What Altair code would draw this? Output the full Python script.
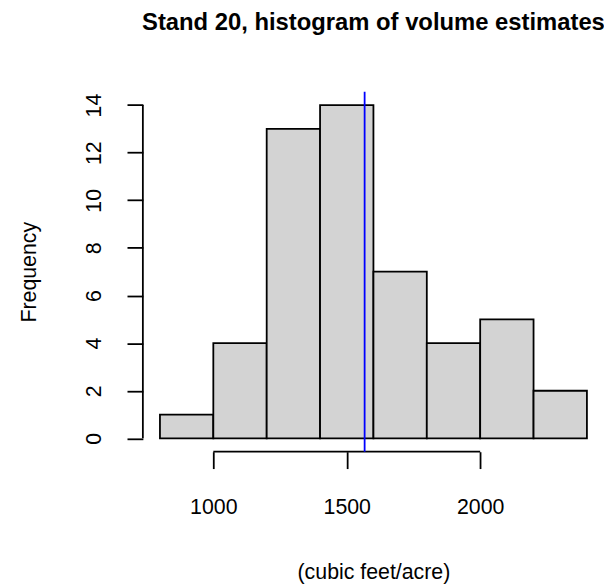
import altair as alt
import pandas as pd

# Histogram data
bin_starts = [800, 1000, 1200, 1400, 1600, 1800, 2000, 2200]
bin_ends = [1000, 1200, 1400, 1600, 1800, 2000, 2200, 2400]
counts = [1, 4, 13, 14, 7, 4, 5, 2]
x_ticks = [1000, 1500, 2000]
y_ticks = [0, 2, 4, 6, 8, 10, 12, 14]
mean_value = [1567]
x_domain = [736, 2464]
y_domain = [-0.56, 14.56]

FONT = "Liberation Sans"
FS = 21.5
LW = 1.8
X_TITLE = "(cubic feet/acre)"
Y_TITLE = "Frequency"

bars_df = pd.DataFrame({"start": bin_starts, "end": bin_ends, "count": counts})
xs = alt.Scale(domain=x_domain, nice=False, zero=False)
ys = alt.Scale(domain=y_domain, nice=False, zero=False)

xaxis = alt.Axis(values=x_ticks, format="d", domain=False, grid=False,
                 tickSize=17, tickWidth=LW, tickColor="black",
                 labelPadding=28, labelFontSize=FS, labelFont=FONT,
                 labelColor="black", titlePadding=44, titleFontSize=FS,
                 titleFont=FONT, titleFontWeight="normal", titleColor="black",
                 labelFlush=False)
yaxis = alt.Axis(values=y_ticks, format="d", domain=False, grid=False,
                 tickSize=16, tickWidth=LW, tickColor="black", labelAngle=270,
                 labelPadding=22, labelFontSize=FS, labelFont=FONT,
                 labelColor="black", titlePadding=43, titleFontSize=FS,
                 titleFont=FONT, titleFontWeight="normal",
                 titleColor="black", labelFlush=False)

bars = alt.Chart(bars_df).mark_rect(
    fill="#D3D3D3", stroke="black", strokeWidth=LW
).encode(
    x=alt.X("start:Q", scale=xs, title=X_TITLE, axis=xaxis),
    x2="end:Q",
    y=alt.Y("count:Q", scale=ys, title=Y_TITLE, axis=yaxis),
    y2=alt.datum(0),
)

xaxis_line = alt.Chart(pd.DataFrame({
    "a": [min(x_ticks)], "b": [max(x_ticks)], "y": [y_domain[0]]
})).mark_rule(color="black", strokeWidth=LW).encode(
    x=alt.X("a:Q", scale=xs, title=X_TITLE, axis=xaxis), x2="b:Q",
    y=alt.Y("y:Q", scale=ys, title=Y_TITLE, axis=yaxis),
)

yaxis_line = alt.Chart(pd.DataFrame({
    "x": [x_domain[0]], "a": [min(y_ticks)], "b": [max(y_ticks)]
})).mark_rule(color="black", strokeWidth=LW).encode(
    x=alt.X("x:Q", scale=xs, title=X_TITLE, axis=xaxis),
    y=alt.Y("a:Q", scale=ys, title=Y_TITLE, axis=yaxis), y2="b:Q",
)

mean_line = alt.Chart(pd.DataFrame({
    "m": mean_value, "lo": [y_domain[0]], "hi": [y_domain[1]]
})).mark_rule(color="#0000FF", strokeWidth=LW).encode(
    x=alt.X("m:Q", scale=xs, title=X_TITLE, axis=xaxis),
    y=alt.Y("lo:Q", scale=ys, title=Y_TITLE, axis=yaxis), y2="hi:Q",
)

chart = alt.layer(bars, xaxis_line, yaxis_line, mean_line).properties(
    width=465, height=363,
    title=alt.TitleParams("Stand 20, histogram of volume estimates",
                          font=FONT, fontSize=24, fontWeight="bold",
                          color="black", anchor="middle", frame="group",
                          offset=56),
    autosize=alt.AutoSizeParams(type="none"),
    padding={"left": 136, "top": 82, "right": 0, "bottom": 134},
).configure_view(stroke=None)

chart.save("out.html", embed_options={"renderer": "svg", "actions": False})
